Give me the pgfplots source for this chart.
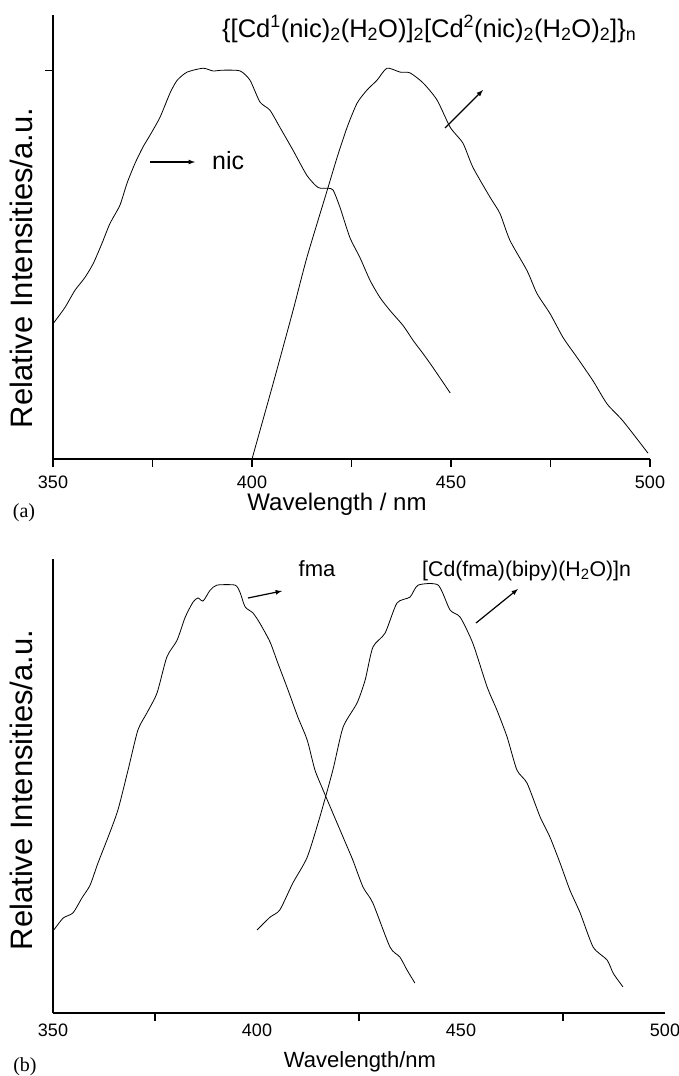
\documentclass[border=0pt]{standalone}
\usepackage{fontspec}
\setmainfont{Liberation Sans}
\newfontfamily\seriffont{Liberation Serif}
\usepackage{pgfplots}
\pgfplotsset{compat=1.18}

\pgfplotsset{
  spectrum/.style={
    scale only axis, anchor=south west,
    axis x line=bottom, axis y line=left,
    axis line style={-, line width=1.6pt},
    tick style={black, line width=1.2pt},
    tick align=outside,
    xmin=350, xmax=500, ymin=0,
    ticklabel style={font=\fontsize{18}{18}\selectfont},
    /pgf/number format/assume math mode=true,
  },
  curve/.style={black, line width=0.8pt, smooth, tension=0.4},
}

\begin{document}
\begin{tikzpicture}
\useasboundingbox (0pt,0pt) rectangle (679pt,-1076pt);

% (a) nic and the Cd(II) nicotinate polymer
\begin{axis}[spectrum,
  at={(53pt,-459pt)}, width=597pt, height=444pt, ymax=1.143,
  xtick={350,400,450,500}, minor xtick={375,425,475},
  major tick length=8pt, minor tick length=8pt,
  xticklabel style={yshift=-5pt},
  ytick={1}, yticklabels={},
]
\addplot[curve] coordinates {
  (350.0,0.348) (353.0,0.390) (355.5,0.434) (358.0,0.467) (360.1,0.503)
  (362.3,0.555) (364.3,0.606) (366.8,0.653) (368.6,0.710) (370.6,0.761)
  (372.6,0.803) (374.4,0.834) (376.9,0.880) (379.4,0.942) (381.2,0.975)
  (383.7,0.996) (387.7,1.006) (390.2,0.999) (392.7,1.001) (397.0,0.999)
  (399.5,0.975) (402.0,0.919) (404.5,0.898) (407.0,0.854) (410.3,0.795)
  (413.8,0.730) (416.6,0.699) (419.1,0.697) (420.4,0.692) (422.1,0.648)
  (424.6,0.570) (427.1,0.519) (429.7,0.459) (432.2,0.415) (434.7,0.382)
  (438.0,0.343) (440.5,0.305) (443.0,0.271) (445.5,0.235) (449.8,0.170)
};
\addplot[curve] coordinates {
  (400.0,0.000) (405.3,0.194) (410.3,0.382) (413.8,0.519) (418.9,0.692)
  (421.4,0.777) (423.9,0.854) (426.4,0.916) (428.9,0.950) (431.4,0.975)
  (433.9,1.006) (437.2,0.996) (439.7,0.994) (443.0,0.968) (446.5,0.924)
  (449.8,0.854) (453.0,0.813) (455.5,0.751) (459.8,0.674) (462.3,0.632)
  (464.8,0.563) (469.1,0.485) (471.6,0.426) (474.9,0.374) (478.2,0.312)
  (481.7,0.261) (485.7,0.201) (489.2,0.142) (493.2,0.098) (499.5,0.015)
};
\end{axis}

% (b) fma and the Cd(II) fumarate polymer
\begin{axis}[spectrum,
  at={(53pt,-1013pt)}, width=612pt, height=454pt, ymax=1.061,
  xtick={350,400,450,500}, minor xtick={375,425,475},
  major tick length=0pt, minor tick length=8pt,
  xticklabel style={yshift=-7pt},
  ytick=\empty,
]
\addplot[curve] coordinates {
  (350.2,0.194) (352.5,0.222) (354.9,0.234) (357.1,0.269) (359.1,0.299)
  (361.0,0.350) (363.5,0.411) (365.9,0.474) (368.4,0.568) (370.8,0.661)
  (373.0,0.701) (375.5,0.748) (377.9,0.832) (380.4,0.871) (382.4,0.925)
  (384.3,0.960) (385.5,0.970) (386.8,0.963) (388.5,0.988) (390.2,1.000)
  (394.6,1.000) (395.8,0.984) (397.1,0.949) (399.0,0.935) (400.7,0.911)
  (403.2,0.867) (405.1,0.818) (407.6,0.755) (410.0,0.692) (412.3,0.638)
  (414.2,0.568) (416.2,0.521) (418.6,0.467) (421.1,0.411) (423.5,0.357)
  (426.0,0.294) (428.4,0.257) (432.6,0.154) (435.0,0.131) (436.8,0.100)
  (438.7,0.070)
};
\addplot[curve] coordinates {
  (400.0,0.194) (403.2,0.224) (405.6,0.241) (408.8,0.304) (412.3,0.364)
  (415.4,0.458) (418.6,0.568) (421.1,0.668) (424.5,0.724) (426.5,0.778)
  (428.4,0.855) (431.4,0.888) (434.3,0.958) (437.5,0.972) (439.5,1.000)
  (444.4,1.000) (447.3,0.942) (449.8,0.925) (452.9,0.864) (456.4,0.762)
  (458.8,0.708) (461.3,0.645) (463.7,0.568) (466.2,0.537) (469.4,0.458)
  (471.8,0.411) (474.3,0.350) (476.7,0.287) (479.2,0.234) (482.4,0.154)
  (485.8,0.124) (487.3,0.093) (489.7,0.061)
};
\end{axis}

% labels and annotations
\node[rotate=90, font=\fontsize{31}{31}\selectfont] at (21pt,-268pt) {Relative Intensities/a.u.};
\node[rotate=90, font=\fontsize{31}{31}\selectfont] at (21pt,-790pt) {Relative Intensities/a.u.};
\node[font=\fontsize{24}{24}\selectfont] at (337pt,-504pt) {Wavelength / nm};
\node[font=\fontsize{22}{22}\selectfont] at (360pt,-1062pt) {Wavelength/nm};
\node[font=\seriffont\fontsize{20}{20}\selectfont] at (24pt,-513pt) {(a)};
\node[font=\seriffont\fontsize{20}{20}\selectfont] at (25pt,-1067pt) {(b)};

\node[anchor=base west, inner sep=0pt, font=\fontsize{25.5}{25.5}\selectfont] at (222pt,-37pt)
  {\{[Cd\textsuperscript{1}(nic)\textsubscript{2}(H\textsubscript{2}O)]\textsubscript{2}[Cd\textsuperscript{2}(nic)\textsubscript{2}(H\textsubscript{2}O)\textsubscript{2}]\}\textsubscript{n}};
\draw[-latex, line width=1.2pt] (150pt,-162pt) -- (195pt,-162pt);
\node[anchor=base west, inner sep=0pt, font=\fontsize{25}{25}\selectfont] at (212pt,-169pt) {nic};
\draw[-latex, line width=1.2pt] (445pt,-128pt) -- (483pt,-90pt);

\node[anchor=base, inner sep=0pt, font=\fontsize{22}{22}\selectfont] at (317pt,-576pt) {fma};
\draw[-latex, line width=1.2pt] (248pt,-598pt) -- (282pt,-591pt);
\node[anchor=base west, inner sep=0pt, font=\fontsize{21.3}{21.3}\selectfont] at (422pt,-576pt)
  {[Cd(fma)(bipy)(H\textsubscript{2}O)]n};
\draw[-latex, line width=1.2pt] (476pt,-623pt) -- (518pt,-589pt);
\end{tikzpicture}
\end{document}
